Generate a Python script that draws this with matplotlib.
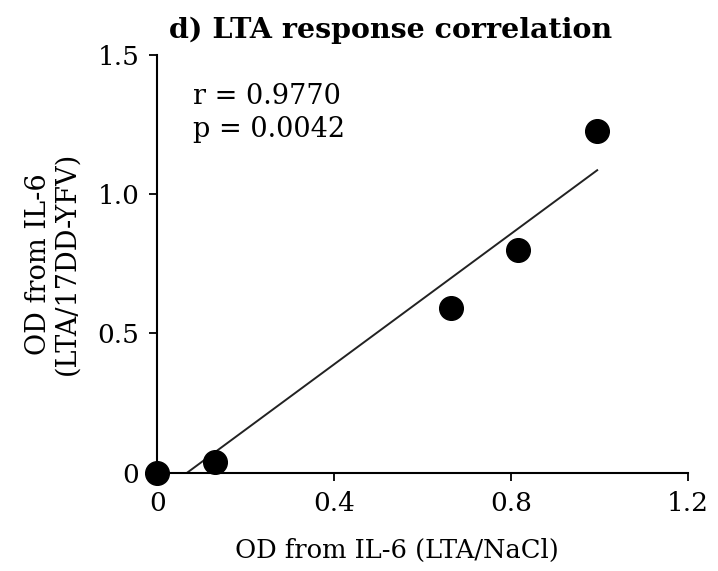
import matplotlib
matplotlib.use('Agg')
import matplotlib.pyplot as plt
import numpy as np

# OD values
od_nacl = [0.0, 0.13, 0.665, 0.815, 0.995]
od_yfv = [0.0, 0.04, 0.59, 0.80, 1.225]
r_value = 0.9770
p_value = 0.0042

x_ticks = [0, 0.4, 0.8, 1.2]
x_ticklabels = ['0', '0.4', '0.8', '1.2']
y_ticks = [0, 0.5, 1.0, 1.5]
y_ticklabels = ['0', '0.5', '1.0', '1.5']

plt.rcParams['font.family'] = ['DejaVu Serif']

fig = plt.figure(figsize=(7.18, 5.71), dpi=100)
ax = fig.add_axes([0.219, 0.172, 0.739, 0.732])

ax.scatter(od_nacl, od_yfv, s=290, color='black', zorder=3, clip_on=False)

# least squares line, from x-intercept to the largest x
slope, intercept = np.polyfit(od_nacl, od_yfv, 1)
x0 = -intercept / slope
x1 = max(od_nacl)
ax.plot([x0, x1], [slope * x0 + intercept, slope * x1 + intercept],
        color='#222222', lw=1.4)

ax.text(0.08, 1.40, f'r = {r_value:.4f}\np = {p_value:.4f}',
        fontsize=19.5, va='top', ha='left', linespacing=1.3)

ax.set_xlim(0, 1.2)
ax.set_ylim(0, 1.5)
ax.set_xticks(x_ticks)
ax.set_xticklabels(x_ticklabels)
ax.set_yticks(y_ticks)
ax.set_yticklabels(y_ticklabels)
ax.tick_params(direction='out', length=6, width=1.3, labelsize=19, pad=7)

ax.spines['top'].set_visible(False)
ax.spines['right'].set_visible(False)
for side in ['left', 'bottom']:
    ax.spines[side].set_linewidth(1.5)

ax.set_xlabel('OD from IL-6 (LTA/NaCl)', fontsize=18.5, labelpad=16, x=0.452)
ax.set_ylabel('OD from IL-6\n(LTA/17DD-YFV)', fontsize=19.5, labelpad=12,
              linespacing=1.1)
ax.set_title('d) LTA response correlation', fontsize=20.5, fontweight='bold',
             pad=12, x=0.44)

fig.savefig('out.png', dpi=100, facecolor='white')
plt.close(fig)
